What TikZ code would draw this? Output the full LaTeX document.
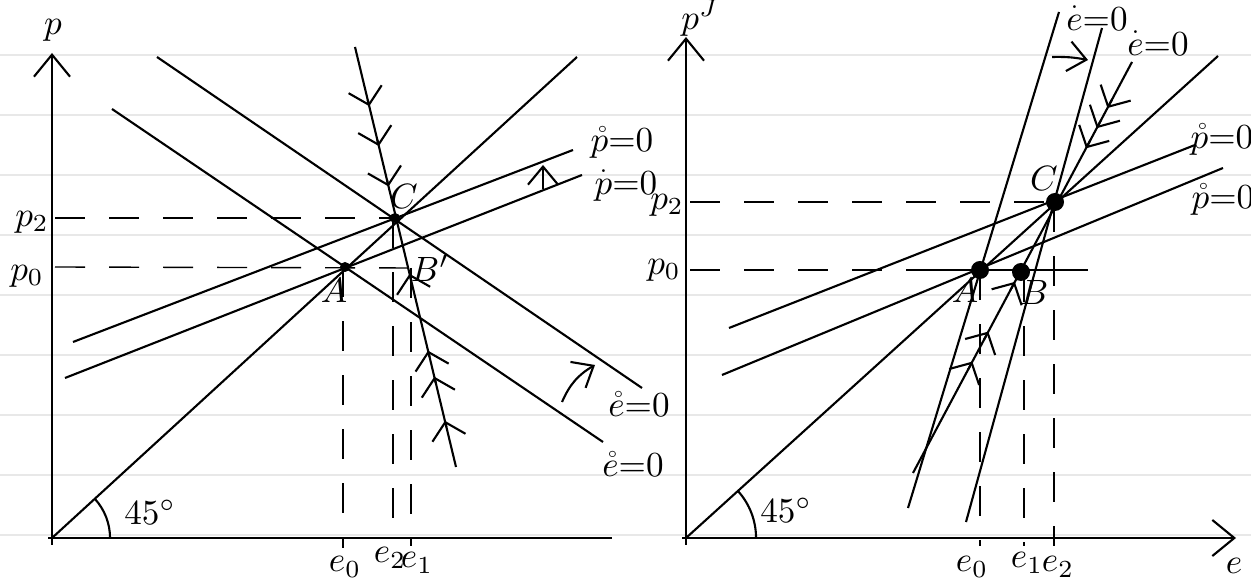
\documentclass[tikz,border=0pt]{standalone}
\usepackage{amsmath}
\usepackage{tikz}
\usetikzlibrary{arrows.meta,calc}

\begin{document}
\begin{tikzpicture}[
  x=0.01cm,y=-0.01cm,
  ruled/.style={black!9,line width=.5pt},
  curve/.style={semithick},
  axis/.style={semithick,-{Straight Barb[length=2.2mm,width=3.6mm]}},
  guide/.style={thin,dash pattern=on 3mm off 2.4mm},
  flow/.style={semithick,-{Straight Barb[length=1.6mm,width=3.4mm]}},
  moveto/.style={semithick,-{Straight Barb[length=1.8mm,width=3mm]}},
  lab/.style={font=\normalsize,inner sep=1pt},
  dotL/.style={circle,fill,inner sep=0pt,minimum size=1mm},
  dotR/.style={circle,fill,inner sep=0pt,minimum size=1.8mm}
]
\fill[white] (0,0) rectangle (1251,586);
\useasboundingbox (0,0) rectangle (1251,586);
% lined paper
\foreach \y in {55,115,...,535} \draw[ruled] (0,\y) -- (1251,\y);

% ---- left panel ----
\coordinate (O1) at (52,538);
\coordinate (A1) at (345,267);
\coordinate (C1) at (395,218);
\coordinate (B1) at (408,268);
\coordinate (S1) at (355,47);
\coordinate (S2) at (456,467);
\draw[axis] (52,545) -- (52,53);
\draw[semithick] (48,538) -- (612,538);
\draw[curve] (O1) -- (577,57);
\draw[curve] (157,57) -- (642,388);   % upper edot
\draw[curve] (112,109) -- (603,442);  % lower edot
\draw[curve] (73,342) -- (573,150);   % upper pdot
\draw[curve] (65,378) -- (582,175);   % lower pdot
\draw[curve] (S1) -- (S2);
\foreach \f [evaluate=\f as \g using \f+0.015] in {0.126,0.221,0.317}
  \draw[flow] ($(S1)!\f!(S2)$) -- ($(S1)!\g!(S2)$);
\foreach \f [evaluate=\f as \g using \f-0.015] in {0.555,0.738,0.8,0.905}
  \draw[flow] ($(S1)!\f!(S2)$) -- ($(S1)!\g!(S2)$);
\draw[guide] (55,218) -- (C1);
\draw[guide] (55,267) -- (B1);
\draw[guide] (343,267) -- (343,548);
\draw[guide] (393,218) -- (393,540);
\draw[guide] (411,268) -- (411,546);
\node[dotL] at (A1) {};
\node[dotL] at (C1) {};
\draw[moveto] (543,189) -- (543,165);
\draw[moveto] (562,402) to[bend left=18] (595,365);
\draw[semithick] ($(O1)+(0.58cm,0)$) arc[start angle=0,end angle=42,radius=0.58cm];
\node[lab] (lP) at (53,30) {$p$};
\node[lab] (lp2) at (32,222) {$p_2$};
\node[lab] (lp0) at (27,276) {$p_0$};
\node[lab] (lA) at (334,290) {$A$};
\node[lab] (lC) at (404,196) {$C$};
\node[lab] (lB) at (430,268) {$B'$};
\node[lab] (l45) at (150,512) {$45^\circ$};
\node[lab] (le0) at (345,567) {$e_0$};
\node[lab] (le2) at (390,558) {$e_2$};
\node[lab] (le1) at (417,563) {$e_1$};
\node[lab] (lpu) at (622,143) {$\mathring{p}{=}0$};
\node[lab] (lpl) at (626,184) {$\overset{.}{p}{=}0$};
\node[lab] (leu) at (639,404) {$\mathring{e}{=}0$};
\node[lab] (lel) at (633,464) {$\mathring{e}{=}0$};

% ---- right panel ----
\coordinate (O2) at (686,538);
\coordinate (A2) at (980,270);
\coordinate (B2) at (1021,272);
\coordinate (C2) at (1055,202);
\coordinate (R1) at (1132,62);
\coordinate (R2) at (913,473);
\draw[axis] (686,545) -- (686,37);
\draw[axis] (682,538) -- (1236,538);
\draw[curve] (O2) -- (1218,56);
\draw[curve] (729,328) -- (1195,145);  % upper pdot
\draw[curve] (722,375) -- (1223,168);  % lower pdot
\draw[curve] (1059,12) -- (908,508);   % e=0
\draw[curve] (1102,28) -- (966,522);   % edot=0
\draw[curve] (R1) -- (R2);
\foreach \f [evaluate=\f as \g using \f+0.02] in {0.092,0.141,0.19}
  \draw[flow] ($(R1)!\f!(R2)$) -- ($(R1)!\g!(R2)$);
\foreach \f [evaluate=\f as \g using \f-0.02] in {0.555,0.676,0.749}
  \draw[flow] ($(R1)!\f!(R2)$) -- ($(R1)!\g!(R2)$);
\draw[guide] (690,202) -- (C2);
\draw[guide] (690,270) -- (917,270);
\draw[semithick] (917,270) -- (1088,270);
\draw[guide] (980,270) -- (980,546);
\draw[guide] (1024,272) -- (1024,546);
\draw[guide] (1054,202) -- (1054,546);
\node[dotR] at (A2) {};
\node[dotR] at (B2) {};
\node[dotR] at (C2) {};
\draw[moveto] (1052,57) to[bend left=6] (1088,60);
\draw[semithick] ($(O2)+(0.7cm,0)$) arc[start angle=0,end angle=42,radius=0.7cm];
\node[lab] (rP) at (700,18) {$p^{J}$};
\node[lab] (rp2) at (667,205) {$p_2$};
\node[lab] (rp0) at (664,270) {$p_0$};
\node[lab] (rA) at (965,290) {$A$};
\node[lab] (rB) at (1034,292) {$B$};
\node[lab] (rC) at (1044,178) {$C$};
\node[lab] (r45) at (786,510) {$45^\circ$};
\node[lab] (re0) at (972,567) {$e_0$};
\node[lab] (re1) at (1027,563) {$e_1$};
\node[lab] (re2) at (1058,567) {$e_2$};
\node[lab] (re) at (1234,566) {$e$};
\node[lab] (rpu) at (1222,140) {$\mathring{p}{=}0$};
\node[lab] (rpl) at (1223,200) {$\mathring{p}{=}0$};
\node[lab] (retop) at (1097,16) {$\overset{.}{e}{=}0$};
\node[lab] (redot) at (1158,41) {$\overset{.}{e}{=}0$};
\end{tikzpicture}
\end{document}
